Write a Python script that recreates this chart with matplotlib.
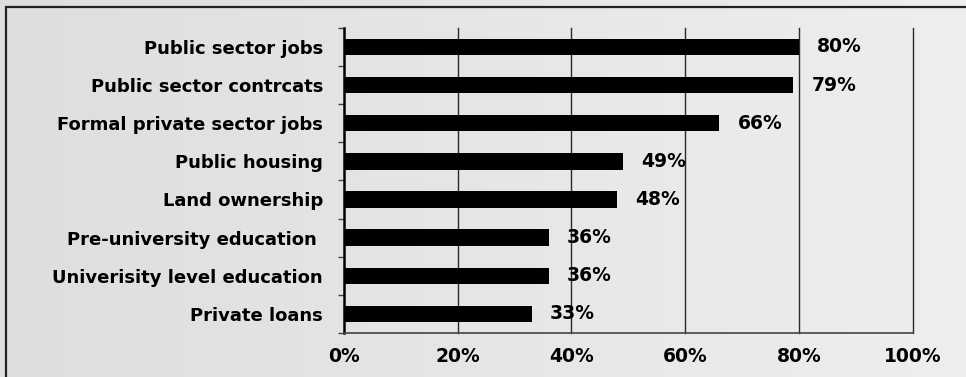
import numpy as np
import matplotlib.pyplot as plt

categories = ['Public sector jobs', 'Public sector contrcats', 'Formal private sector jobs',
              'Public housing', 'Land ownership', 'Pre-university education ',
              'Univerisity level education', 'Private loans']
values = [80, 79, 66, 49, 48, 36, 36, 33]
xticks = [0, 20, 40, 60, 80, 100]

plt.rcParams['font.family'] = ['DejaVu Sans']

fig = plt.figure(figsize=(9.66, 3.77), dpi=100)
fig.patch.set_facecolor('#e3e5e7')

# paper background, a touch lighter to the right
bg = fig.add_axes([0, 0, 1, 1], zorder=-10)
grad = np.linspace(0, 1, 256).reshape(1, -1)
bg.imshow(grad, aspect='auto', extent=[0, 1, 0, 1],
          cmap=plt.matplotlib.colors.LinearSegmentedColormap.from_list(
              'paper', ['#dcdee0', '#e4e6e8', '#eceeef']))
bg.axis('off')

# outer frame, only top and left edges fall inside the image
fig.add_artist(plt.Rectangle((0.006, -0.1), 1.1, 1.082, transform=fig.transFigure,
                             fill=False, edgecolor='#222222', lw=1.6))

ax = fig.add_axes([0.356, 0.117, 0.589, 0.809])
ax.set_facecolor('none')

y = np.arange(len(categories))
ax.barh(y, values, height=0.43, color='black', zorder=3)

for yi, v in zip(y, values):
    ax.annotate('%d%%' % v, (v, yi), xytext=(13, 0), textcoords='offset points',
                va='center', ha='left', fontsize=13.5, fontweight='bold', zorder=4)

ax.set_xlim(0, 100)
ax.set_ylim(len(categories) - 0.5, -0.5)
ax.set_xticks(xticks)
ax.set_xticklabels(['%d%%' % t for t in xticks], fontsize=13.5, fontweight='bold')
ax.set_yticks(y)
ax.set_yticklabels(categories, fontsize=13, fontweight='bold')
ax.tick_params(axis='y', length=0, pad=15)
ax.tick_params(axis='x', length=0, pad=10)
ax.set_yticks(np.arange(-0.5, len(categories), 1), minor=True)
ax.tick_params(axis='y', which='minor', length=4, width=1, color='#444444')

for t in xticks[1:]:
    ax.axvline(t, color='#2a2a2a', lw=1.0, zorder=1, clip_on=False)

for s in ['top', 'right']:
    ax.spines[s].set_visible(False)
ax.spines['left'].set_linewidth(1.8)
ax.spines['bottom'].set_linewidth(1.2)
ax.spines['bottom'].set_color('#444444')

fig.savefig('out.png', dpi=100, facecolor=fig.get_facecolor())
